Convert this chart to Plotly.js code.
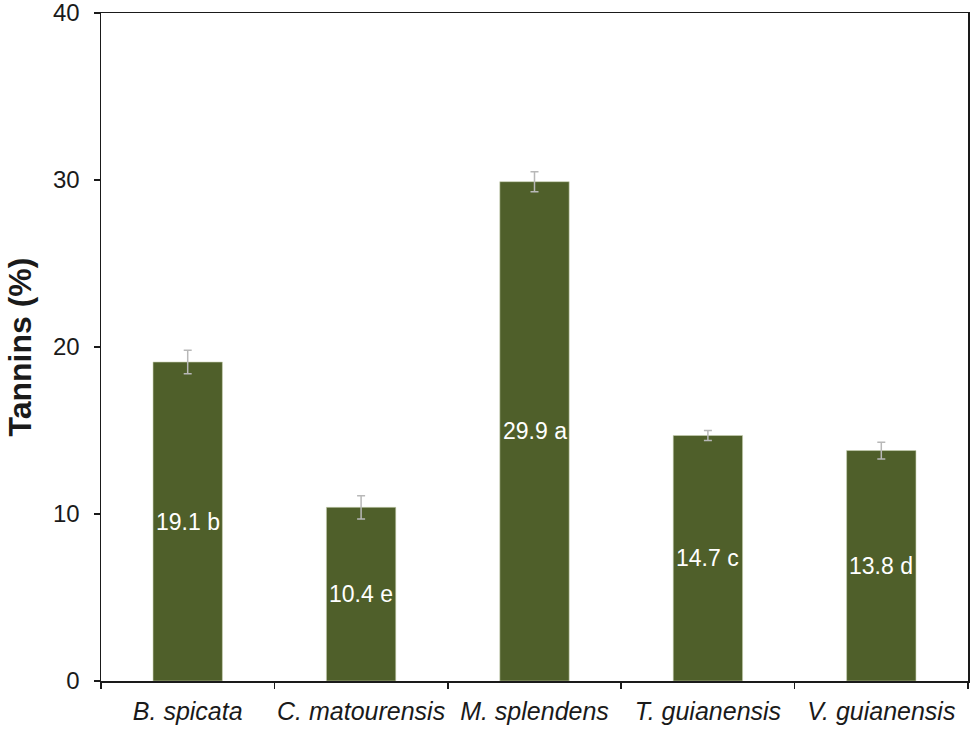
<!DOCTYPE html>
<html>
<head>
<meta charset="utf-8">
<script src="https://cdn.plot.ly/plotly-3.0.1.min.js"></script>
<style>html,body{margin:0;padding:0;background:#fff;}#chart{width:974px;height:729px;}</style>
</head>
<body>
<div id="chart"></div>
<script>
const categories = ["B. spicata", "C. matourensis", "M. splendens", "T. guianensis", "V. guianensis"];
const tannins = [19.1, 10.4, 29.9, 14.7, 13.8];
const errors = [0.7, 0.7, 0.6, 0.3, 0.5];
const groupLetters = ["b", "e", "a", "c", "d"];
const labels = tannins.map((v, i) => v.toFixed(1) + " " + groupLetters[i]);
const yTicks = [0, 10, 20, 30, 40];

const FONT = "Liberation Sans, Arial, sans-serif";

const trace = {
  type: "bar",
  x: categories,
  y: tannins,
  marker: {color: "#4f5f2a", line: {color: "#c9d1b4", width: 0.6}},
  width: 0.4,
  error_y: {type: "data", array: errors, visible: true, color: "#b8b8b8", thickness: 1.5, width: 4},
  hoverinfo: "skip"
};

const annotations = categories.map((c, i) => ({
  x: c, y: tannins[i] / 2, xref: "x", yref: "y",
  text: labels[i], showarrow: false,
  font: {family: FONT, size: 23, color: "#ffffff"}
}));

const layout = {
  width: 974, height: 729,
  margin: {l: 101, r: 6, t: 13, b: 48},
  paper_bgcolor: "#ffffff", plot_bgcolor: "#ffffff",
  showlegend: false,
  font: {family: FONT, color: "#1a1a1a"},
  annotations: annotations,
  xaxis: {
    type: "category",
    tickvals: categories,
    ticktext: categories.map(c => "<i>" + c + "</i>"),
    tickson: "boundaries",
    tickangle: 0,
    ticks: "outside", ticklen: 6, tickwidth: 1.5, tickcolor: "#1a1a1a",
    showline: true, linecolor: "#1a1a1a", linewidth: 1.5, mirror: true,
    showgrid: false, zeroline: false,
    ticklabelstandoff: 7,
    ticklabeloverflow: "allow",
    tickfont: {size: 25, color: "#1a1a1a"}
  },
  yaxis: {
    range: [0, 40],
    tickvals: yTicks,
    ticks: "outside", ticklen: 6, tickwidth: 1.5, tickcolor: "#1a1a1a",
    showline: true, linecolor: "#1a1a1a", linewidth: 1.5, mirror: true,
    showgrid: false, zeroline: false,
    ticklabelstandoff: 9,
    ticklabeloverflow: "allow",
    tickfont: {size: 24, color: "#1a1a1a"},
    title: {text: "<b>Tannins (%)</b>", font: {size: 32, color: "#1a1a1a"}, standoff: 12}
  }
};

Plotly.newPlot("chart", [trace], layout, {displayModeBar: false, staticPlot: true});
</script>
</body>
</html>
